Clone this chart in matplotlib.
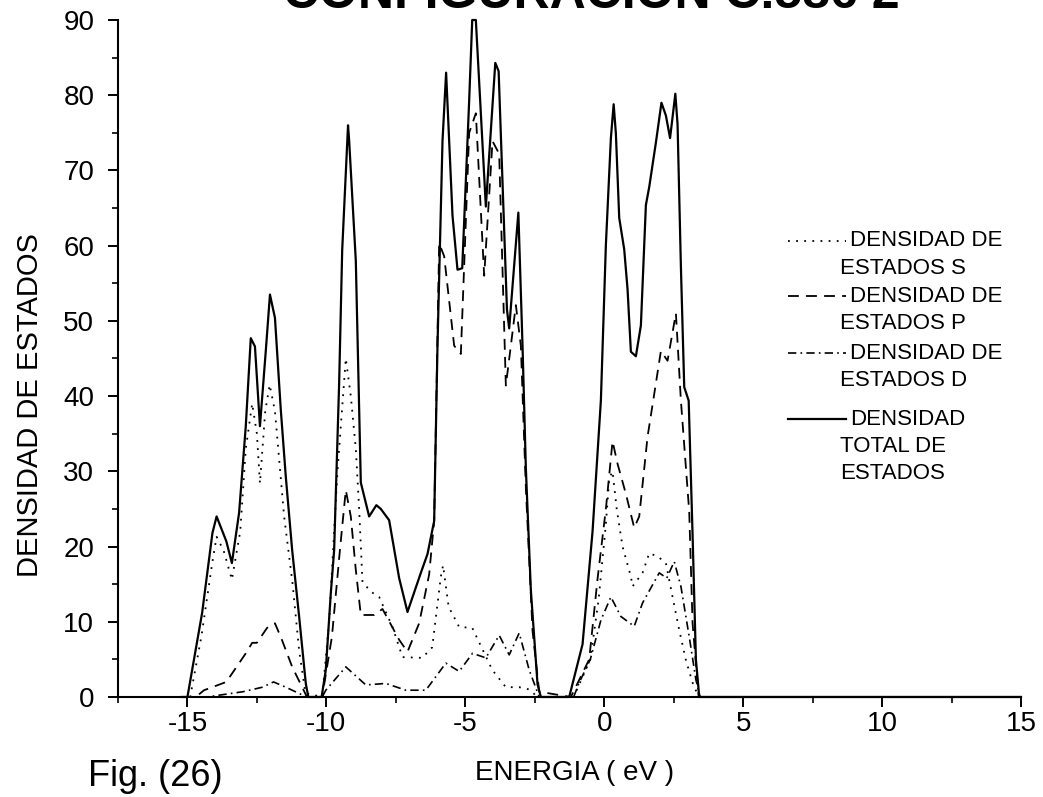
#!/usr/bin/env python3
"""
Density of states plot (s, p, d and total) - Fig. (26)
"""

import matplotlib
matplotlib.use('Agg')  # headless
import matplotlib.pyplot as plt
from matplotlib.ticker import MultipleLocator

plt.rcParams['font.family'] = ['Liberation Sans', 'DejaVu Sans']
plt.rcParams['axes.unicode_minus'] = False

# Energy (eV) / density values
e_total = [-15.2, -15.0, -14.47, -14.1, -13.95, -13.6, -13.4, -13.14, -12.9, -12.72,
           -12.57, -12.39, -12.18, -12.03, -11.85, -11.64, -11.46, -11.23, -10.98, -10.74,
           -10.65, -10.17, -10.02, -9.84, -9.72, -9.54, -9.43, -9.22, -9.18, -8.94,
           -8.76, -8.46, -8.2, -8.04, -7.74, -7.38, -7.08, -6.6, -6.36, -6.12,
           -6.0, -5.82, -5.69, -5.46, -5.28, -5.11, -4.86, -4.75, -4.62, -4.26,
           -3.92, -3.8, -3.5, -3.42, -3.09, -2.94, -2.82, -2.64, -2.4, -2.28,
           -1.26, -0.78, -0.42, -0.12, 0.06, 0.24, 0.34, 0.42, 0.54, 0.72,
           0.84, 0.96, 1.14, 1.32, 1.5, 1.62, 1.86, 2.06, 2.22, 2.37,
           2.56, 2.64, 2.76, 2.88, 3.04, 3.18, 3.3, 3.42, 15.0]
dos_total = [0, 0, 11.2, 21.8, 24.0, 20.7, 17.8, 24.5, 36, 47.7,
             46.6, 36, 46, 53.5, 50.4, 38.2, 29.3, 19.5, 10.7, 1.8,
             0, 0, 3.6, 13.8, 19.5, 41.7, 59.4, 76.0, 74, 58,
             28.5, 24.0, 25.5, 25.0, 23.5, 15.8, 11.3, 16.5, 19, 23.4,
             46.7, 73.9, 83, 64, 56.8, 57, 79.3, 90, 90, 65.2,
             84.3, 83.2, 51.5, 49, 64.4, 46.7, 30.4, 14.2, 1.7, 0,
             0, 7, 22, 39.4, 60.1, 74.3, 78.8, 74.9, 63.7, 59.5,
             54.2, 45.9, 45.3, 49.4, 65.4, 67.8, 73.7, 79, 77.3, 74.3,
             80.2, 76.1, 57.2, 41.2, 39.4, 21.6, 5.0, 0, 0]

e_s = [-15.2, -14.9, -14.5, -14.1, -13.95, -13.7, -13.4, -13.1, -12.9, -12.67,
       -12.5, -12.39, -12.2, -12.04, -11.85, -11.52, -11.22, -10.98, -10.75, -10.15,
       -9.9, -9.6, -9.3, -9.12, -8.94, -8.82, -8.7, -8.4, -8.1, -7.62,
       -7.26, -6.55, -6.19, -5.88, -5.8, -5.6, -5.22, -4.75, -4.03, -3.54,
       -3.06, -2.7, -2.4, -1.1, -0.5, -0.2, 0.06, 0.18, 0.3, 0.45,
       0.66, 0.96, 1.02, 1.38, 1.62, 1.92, 2.22, 2.46, 2.7, 2.94,
       3.18, 3.4, 15.0]
dos_s = [0, 0, 8, 18, 21.3, 19.5, 15.6, 22, 33, 39,
         35, 28.4, 38, 41.5, 38, 24, 15.2, 6.2, 0.5, 0,
         10, 30, 45, 40, 33, 25, 15.3, 14, 13.3, 9.3,
         5.3, 5.2, 6.6, 16, 17.5, 12, 9.3, 9.2, 3.6, 1.3,
         1.3, 1, 0, 0, 5, 13, 23, 29, 30, 25,
         20, 16, 14.7, 16.5, 19.1, 18.7, 17.8, 13.3, 8.9, 4.9,
         1.9, 0, 0]

e_p = [-15.2, -14.7, -14.4, -13.6, -12.9, -12.67, -12.5, -12.13, -11.85, -11.6,
       -11.23, -10.87, -10.7, -10.15, -9.8, -9.5, -9.3, -9.12, -8.94, -8.76,
       -8.28, -7.98, -7.38, -7.08, -6.66, -6.3, -6.12, -5.94, -5.76, -5.4,
       -5.16, -4.86, -4.62, -4.32, -4.02, -3.78, -3.54, -3.36, -3.18, -3.0,
       -2.82, -2.58, -2.34, -1.2, -0.54, -0.24, 0.06, 0.3, 0.48, 0.78,
       1.08, 1.26, 1.56, 1.86, 2.04, 2.28, 2.58, 2.76, 3.06, 3.18,
       3.4, 15.0]
dos_p = [0, 0, 0.9, 2, 5.8, 7.2, 7.2, 9.2, 9.8, 7.6,
         4, 1.3, 0, 0, 8, 20, 27.5, 24, 16.9, 10.9,
         10.9, 11.7, 7.6, 6, 9.8, 16.3, 23.4, 60.3, 58.6, 46.7,
         45.6, 75, 77.6, 56, 73.9, 72.2, 41.4, 46.7, 52.1, 46.7,
         27.8, 8.8, 0.7, 0, 5, 15.7, 25, 34, 31, 27,
         22.5, 24, 34.6, 41.7, 46, 44.7, 51, 39.4, 24.6, 9.8,
         0, 0]

e_d = [-15.2, -14.3, -13.0, -12.3, -11.9, -11.46, -11.0, -10.7, -10.15, -10.02,
       -9.3, -8.58, -7.86, -7.14, -6.42, -5.7, -5.22, -4.74, -4.26, -3.78,
       -3.42, -3.06, -2.7, -2.34, -1.1, -0.9, -0.5, -0.12, 0.24, 0.6,
       1.08, 1.38, 1.98, 2.25, 2.52, 2.76, 3.06, 3.3, 3.45, 15.0]
dos_d = [0, 0, 0.7, 1.3, 2.0, 1.3, 0.5, 0, 0, 0.9,
         4.0, 1.6, 1.8, 0.9, 0.9, 4.5, 3.4, 5.8, 5.2, 8.2,
         5.6, 8.5, 3.6, 0, 0, 1.9, 5, 10.2, 13.3, 10.7,
         9.4, 12.5, 16.5, 15.8, 18, 14.7, 8, 2.3, 0, 0]

x_ticks = [-15, -10, -5, 0, 5, 10, 15]
y_ticks = [0, 10, 20, 30, 40, 50, 60, 70, 80, 90]

# line styles
STYLE_S = dict(color='black', lw=1.3, linestyle=(0, (1, 3.5)))
STYLE_P = dict(color='black', lw=1.3, linestyle=(0, (6, 4)))
STYLE_D = dict(color='black', lw=1.2, linestyle=(0, (5, 2.5, 1, 2.5)))
STYLE_T = dict(color='black', lw=1.6, linestyle='-')

fig = plt.figure(figsize=(10.43, 7.97), dpi=100)
ax = fig.add_axes([0.1131, 0.1255, 0.8658, 0.8494])

ax.plot(e_s, dos_s, clip_on=False, **STYLE_S)
ax.plot(e_p, dos_p, clip_on=False, **STYLE_P)
ax.plot(e_d, dos_d, clip_on=False, **STYLE_D)
ax.plot(e_total, dos_total, clip_on=False, **STYLE_T)

ax.set_xlim(-17.5, 15)
ax.set_ylim(0, 90)
ax.set_xticks(x_ticks)
ax.set_yticks(y_ticks)
ax.xaxis.set_minor_locator(MultipleLocator(2.5))
ax.yaxis.set_minor_locator(MultipleLocator(5))

for side in ('top', 'right'):
    ax.spines[side].set_visible(False)
for side in ('left', 'bottom'):
    ax.spines[side].set_linewidth(1.5)

ax.tick_params(axis='both', which='major', direction='out', length=7, width=1.4,
               labelsize=20)
ax.tick_params(axis='both', which='minor', direction='out', length=4, width=1.2)
ax.tick_params(axis='x', which='major', pad=3)
ax.tick_params(axis='y', which='major', pad=10)

ax.set_xlabel('ENERGIA ( eV )', fontsize=20)
ax.xaxis.set_label_coords(0.506, -0.093)
ax.set_ylabel('DENSIDAD DE ESTADOS', fontsize=21)
ax.yaxis.set_label_coords(-0.082, 0.431)

# hand-made legend with wrapped labels
legend_rows = [
    (0.6736, STYLE_S, 'DENSIDAD DE', ['ESTADOS S']),
    (0.5923, STYLE_P, 'DENSIDAD DE', ['ESTADOS P']),
    (0.5081, STYLE_D, 'DENSIDAD DE', ['ESTADOS D']),
    (0.4106, STYLE_T, 'DENSIDAD', ['TOTAL DE', 'ESTADOS']),
]
line_step = 0.0405
for y0, style, first, rest in legend_rows:
    ax.plot([0.742, 0.806], [y0, y0], transform=ax.transAxes, clip_on=False, **style)
    ax.text(0.811, y0, first, transform=ax.transAxes, fontsize=16,
            ha='left', va='center')
    for i, txt in enumerate(rest):
        ax.text(0.800, y0 - line_step * (i + 1), txt, transform=ax.transAxes,
                fontsize=16, ha='left', va='center')

# title cut off at the top of the page, as in the scan
fig.text(0.567, 1 - 8 / 797, 'CONFIGURACION C.586 2', ha='center', va='baseline',
         fontsize=36, fontweight='bold')
fig.text(88 / 1043, 1 - 786 / 797, 'Fig. (26)', ha='left', va='baseline', fontsize=26)

plt.savefig('out.png', dpi=100, facecolor='white')
plt.close(fig)
